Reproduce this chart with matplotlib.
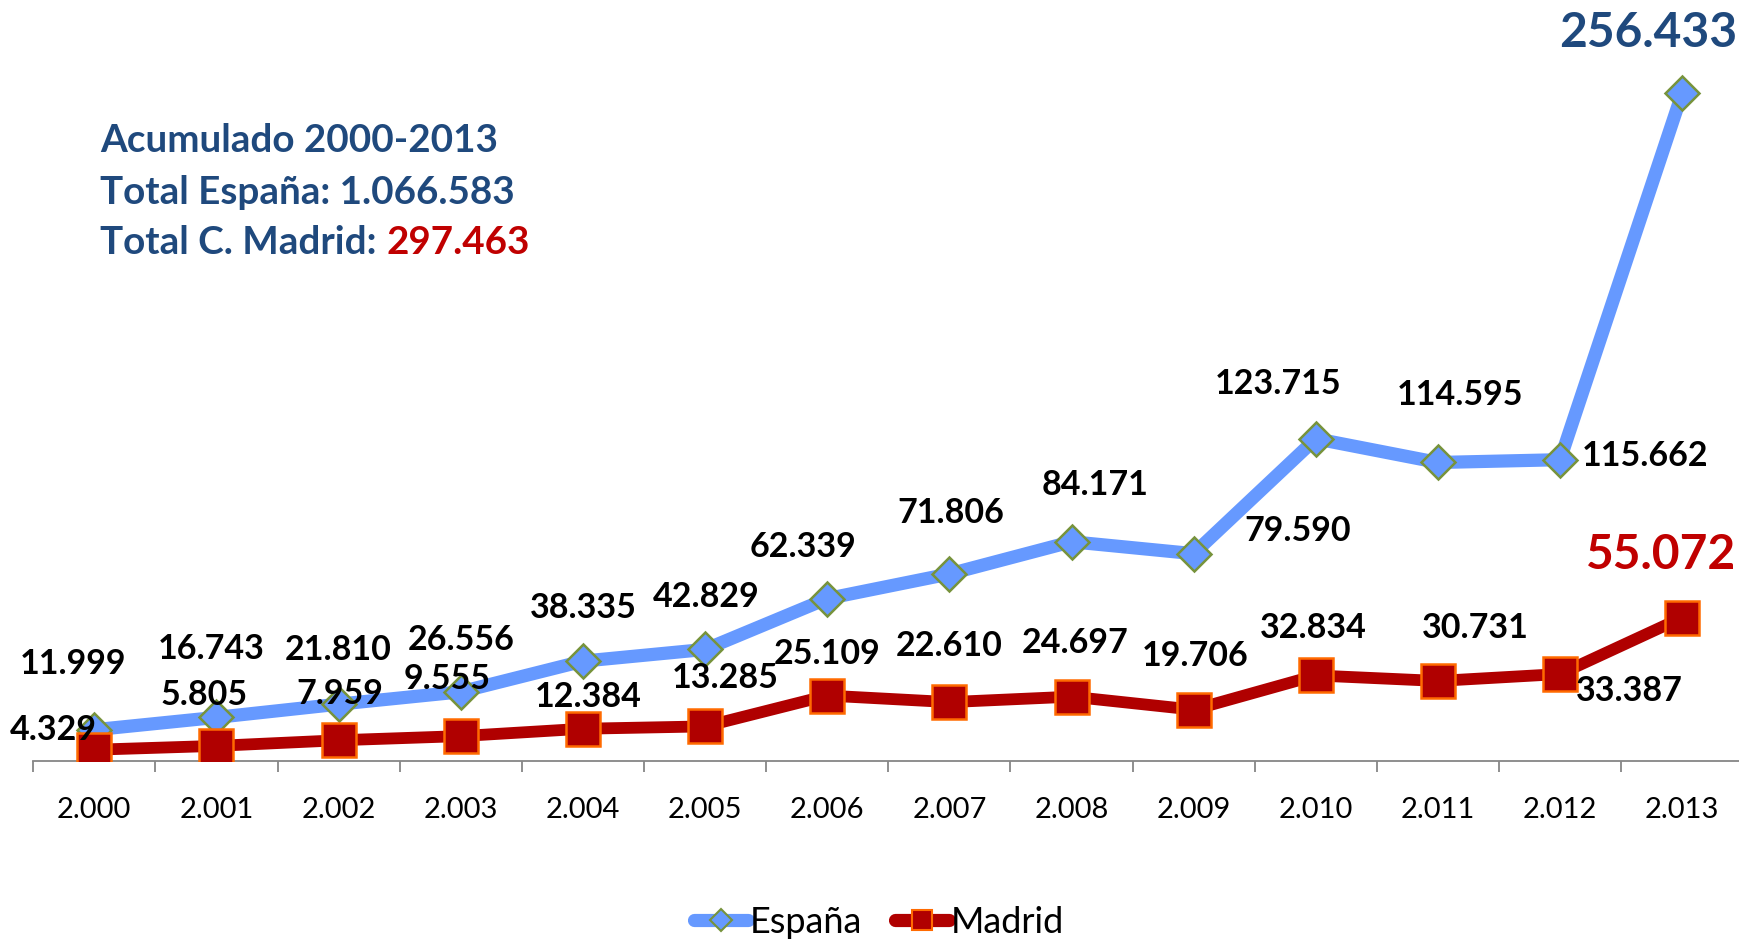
"""Inmigración acumulada 2000-2013: España vs. Comunidad de Madrid.
Line chart with direct value labels. Saves out.png."""

import matplotlib

matplotlib.use("Agg")
import matplotlib.pyplot as plt
import matplotlib.patheffects as pe
from matplotlib.lines import Line2D
import numpy as np

# --- data ---
years = ["2.000", "2.001", "2.002", "2.003", "2.004", "2.005", "2.006",
         "2.007", "2.008", "2.009", "2.010", "2.011", "2.012", "2.013"]
espana = [11999, 16743, 21810, 26556, 38335, 42829, 62339,
          71806, 84171, 79590, 123715, 114595, 115662, 256433]
madrid = [4329, 5805, 7959, 9555, 12384, 13285, 25109,
          22610, 24697, 19706, 32834, 30731, 33387, 55072]
total_espana = "1.066.583"
total_madrid = "297.463"

# label offsets from each point, in pixels (dx right, dy up)
esp_off = [(-21, 66), (-5, 68), (0, 54), (0, 52), (0, 53), (1, 52), (-24, 52),
           (1, 61), (24, 57), (104, 23), (-38, 55), (22, 67), (85, 4), (-34, 60)]
mad_off = [(-41, 20), (-12, 51), (1, 46), (-14, 57), (5, 32), (20, 48), (0, 42),
           (0, 56), (4, 54), (1, 54), (-2, 47), (37, 53), (69, -17), (-21, 63)]

# --- palette ---
BLUE = "#6699FF"
BLUE_EDGE = "#77933C"
RED = "#B00000"
RED_EDGE = "#FF6A00"
NAVY = "#1F497D"
HILITE_RED = "#C00000"
AXIS_GREY = "#868686"

plt.rcParams["font.family"] = ["Lato", "DejaVu Sans"]

W, H = 1740, 941
fig = plt.figure(figsize=(W / 100, H / 100), dpi=100)

# axes placed so category centres and the zero line match the reference
x0_px, x_step = 94.3, 122.15
base_px, px_per_unit = 761, 668 / 256433
ytop = 290000
ax = fig.add_axes([(x0_px - x_step / 2) / W, (H - base_px) / H,
                   14 * x_step / W, ytop * px_per_unit / H])
ax.set_xlim(-0.5, 13.5)
ax.set_ylim(0, ytop)

x = np.arange(len(years))
shadow = [pe.SimplePatchShadow(offset=(2, -2), alpha=0.25), pe.Normal()]

ax.plot(x, espana, color=BLUE, lw=9.5, solid_capstyle="round", solid_joinstyle="round",
        marker="D", ms=17, mfc=BLUE, mec=BLUE_EDGE, mew=1.8, zorder=3)
ax.plot(x, madrid, color=RED, lw=8.5, solid_capstyle="round", solid_joinstyle="round",
        marker="s", ms=24, mfc=RED, mec=RED_EDGE, mew=1.8, zorder=4)


def fmt(v):
    return f"{v:,}".replace(",", ".")


for series, offs, big_color in ((espana, esp_off, NAVY), (madrid, mad_off, HILITE_RED)):
    for i, (v, (dx, dy)) in enumerate(zip(series, offs)):
        last = i == len(series) - 1
        ax.annotate(fmt(v), (i, v), xytext=(dx, dy), textcoords="offset pixels",
                    ha="center", va="center", fontweight="bold",
                    fontsize=34.5 if last else 24.5,
                    color=big_color if last else "black", zorder=10)

# axis chrome
for s in ("top", "right", "left"):
    ax.spines[s].set_visible(False)
ax.spines["bottom"].set_color(AXIS_GREY)
ax.spines["bottom"].set_linewidth(1.3)
ax.set_yticks([])
ax.set_xticks(x)
ax.set_xticklabels(years, fontsize=21)
ax.set_xticks(np.arange(-0.5, 13.5, 1), minor=True)
ax.tick_params(axis="x", which="major", length=0, pad=26)
ax.tick_params(axis="x", which="minor", length=8, width=1.3, color=AXIS_GREY, direction="out")

# summary block
tx = 100 / W
fig.text(tx, 1 - 141 / H, "Acumulado 2000-2013", color=NAVY, fontsize=27.8,
         fontweight="bold", va="center")
fig.text(tx, 1 - 192 / H, f"Total España: {total_espana}", color=NAVY, fontsize=27.8,
         fontweight="bold", va="center")
t3 = fig.text(tx, 1 - 243 / H, "Total C. Madrid:", color=NAVY, fontsize=27.8,
              fontweight="bold", va="center")
ax.annotate(total_madrid, xy=(1, 0.5), xycoords=t3, xytext=(10, 0),
            textcoords="offset pixels", color=HILITE_RED, fontsize=27.8,
            fontweight="bold", va="center", ha="left", annotation_clip=False)

# legend with smaller markers than the plot, as in the reference
handles = [
    Line2D([], [], color=BLUE, lw=9.5, solid_capstyle="round", marker="D", ms=11,
           mfc=BLUE, mec=BLUE_EDGE, mew=1.5),
    Line2D([], [], color=RED, lw=9.5, solid_capstyle="round", marker="s", ms=15,
           mfc=RED, mec=RED_EDGE, mew=1.5),
]
fig.legend(handles, ["España", "Madrid"], loc="center", bbox_to_anchor=(0.505, 0.02),
           ncol=2, frameon=False, fontsize=26, handlelength=1.5,
           handletextpad=0.05, columnspacing=0.9)

fig.savefig("out.png", dpi=100)
